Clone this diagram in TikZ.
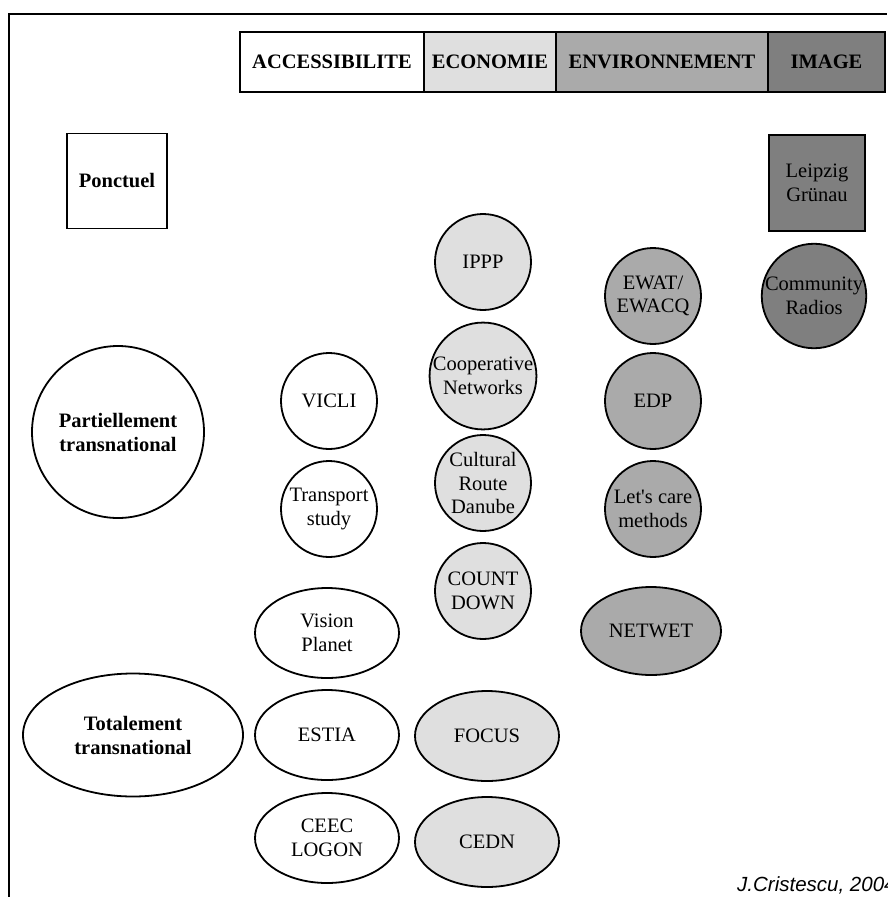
\documentclass[tikz,border=0pt]{standalone}
\usepackage{fontspec}
\setmainfont{Liberation Serif}
\newfontfamily\signfont{Liberation Sans}
\usepackage{tikz}
\usetikzlibrary{positioning,shapes.geometric}

\definecolor{ecogray}{HTML}{DFDFDF}
\definecolor{envgray}{HTML}{AAAAAA}
\definecolor{imggray}{HTML}{7F7F7F}

\tikzset{
  base/.style={draw,line width=1.8pt,align=center,inner sep=0pt,font=\fontsize{20.5}{23.5}\selectfont},
  rond/.style={base,circle,minimum size=96pt},
  ovale/.style={base,ellipse,minimum width=144pt,minimum height=90pt},
  titre/.style={base,rectangle,outer sep=0pt,minimum height=60pt,font=\fontsize{20.5}{24}\selectfont\bfseries},
  gras/.style={font=\fontsize{20.5}{24}\selectfont\bfseries},
}

\begin{document}
\begin{tikzpicture}[x=1pt,y=-1pt]
\useasboundingbox (0,0) rectangle (887,897);
\draw[line width=2.2pt] (9,897) -- (9,14) -- (887,14);
% bandeau des themes
\node[titre,fill=white,minimum width=184pt,anchor=west] (acc) at (240,62) {ACCESSIBILITE};
\node[titre,fill=ecogray,minimum width=132pt,right=0pt of acc] (eco) {ECONOMIE};
\node[titre,fill=envgray,minimum width=212pt,right=0pt of eco] (env) {ENVIRONNEMENT};
\node[titre,fill=imggray,minimum width=117pt,right=0pt of env] (img) {IMAGE};
% echelles
\node[base,gras,rectangle,minimum width=100pt,minimum height=95pt] (ponctuel) at (117,181) {Ponctuel};
\node[base,gras,circle,minimum size=172pt] (partiel) at (118,432) {Partiellement\\transnational};
\node[base,gras,ellipse,minimum width=220pt,minimum height=123pt] (total) at (133,735) {Totalement\\transnational};
% accessibilite
\node[rond] (vicli) at (329,401) {VICLI};
\node[rond] (transport) at (329,509) {Transport\\study};
\node[ovale] (vision) at (327,633) {Vision\\Planet};
\node[ovale] (estia) at (327,735) {ESTIA};
\node[ovale] (ceec) at (327,838) {CEEC\\LOGON};
% economie
\node[rond,fill=ecogray] (ippp) at (483,262) {IPPP};
\node[rond,fill=ecogray] (coop) at (483,376) {Cooperative\\Networks};
\node[rond,fill=ecogray] (danube) at (483,483) {Cultural\\Route\\Danube};
\node[rond,fill=ecogray] (countdown) at (483,591) {COUNT\\DOWN};
\node[ovale,fill=ecogray] (focus) at (487,736) {FOCUS};
\node[ovale,fill=ecogray] (cedn) at (487,842) {CEDN};
% environnement
\node[rond,fill=envgray] (ewat) at (653,296) {EWAT/\\EWACQ};
\node[rond,fill=envgray] (edp) at (653,401) {EDP};
\node[rond,fill=envgray] (letscare) at (653,509) {Let\textquotesingle s care\\methods};
\node[ovale,fill=envgray,minimum width=140pt,minimum height=88pt] (netwet) at (651,631) {NETWET};
% image
\node[base,rectangle,fill=imggray,minimum size=96pt] (leipzig) at (817,183) {Leipzig\\Grünau};
\node[rond,fill=imggray] (radios) at (814,296) {Community\\Radios};
\node[anchor=base west,inner sep=0pt,font=\signfont\itshape\fontsize{20.5}{24}\selectfont] (sign) at (737,891) {J.Cristescu, 2004};
\end{tikzpicture}
\end{document}
